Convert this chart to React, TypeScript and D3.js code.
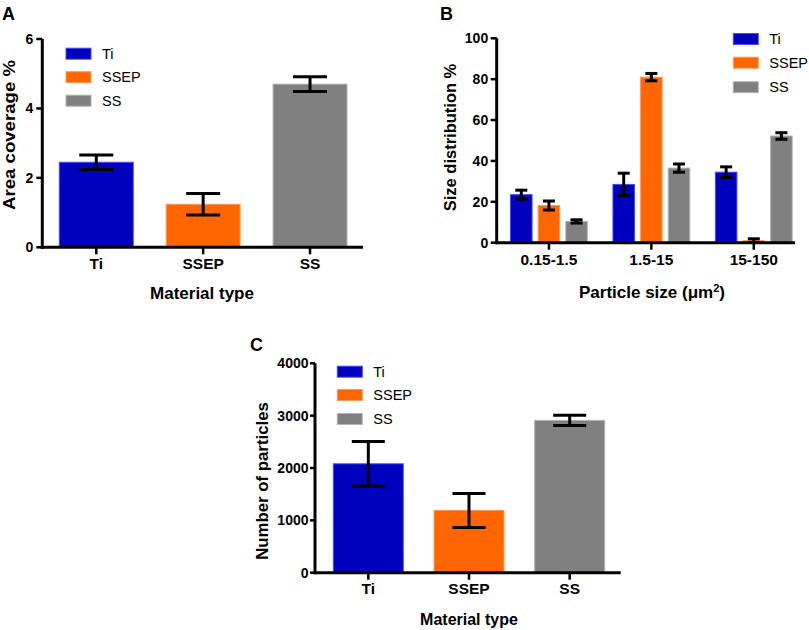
import React from "react";
import * as d3 from "d3";

// ---------- data ----------
const materials = ["Ti", "SSEP", "SS"];
const coverageMean = [2.45, 1.24, 4.7];
const coverageErr = [0.21, 0.31, 0.21];
const coverageTicks = [0, 2, 4, 6];

const sizeBins = ["0.15-1.5", "1.5-15", "15-150"];
const sizeTi = [23.5, 28.5, 34.5];
const sizeTiErr = [2.2, 5.5, 2.6];
const sizeSSEP = [18.2, 81, 1];
const sizeSSEPErr = [2.2, 1.8, 0.9];
const sizeSS = [10.4, 36.5, 52.2];
const sizeSSErr = [0.8, 2, 1.6];
const sizeTicks = [0, 20, 40, 60, 80, 100];

const countMean = [2080, 1190, 2910];
const countErr = [425, 325, 100];
const countTicks = [0, 1000, 2000, 3000, 4000];

const FILL = ["#0000bf", "#ff6600", "#808080"];
const EDGE = ["#4a4aff", "#ff9a5c", "#b4b4b4"];
const FONT = "'Liberation Sans', Arial, Helvetica, sans-serif";

type ErrProps = { cx: number; top: number; bottom: number; cap: number; sw: number };
function ErrBar({ cx, top, bottom, cap, sw }: ErrProps) {
  return (
    <g stroke="#000" strokeWidth={sw} fill="none">
      <line x1={cx} x2={cx} y1={top} y2={bottom} />
      <line x1={cx - cap / 2} x2={cx + cap / 2} y1={top} y2={top} />
      <line x1={cx - cap / 2} x2={cx + cap / 2} y1={bottom} y2={bottom} />
    </g>
  );
}

type AxisProps = {
  y: d3.ScaleLinear<number, number>;
  ax: number;
  xEnd: number;
  ticks: number[];
  tickSize: number;
  pad: number;
  xCenters: number[];
};
function Axes({ y, ax, xEnd, ticks, tickSize, pad, xCenters }: AxisProps) {
  const [yb, yt] = y.range();
  return (
    <g>
      <line x1={ax} x2={ax} y1={yt} y2={yb + 1.5} stroke="#000" strokeWidth={3} />
      <line x1={ax - 1.5} x2={xEnd} y1={yb} y2={yb} stroke="#000" strokeWidth={3} />
      {ticks.map((t) => (
        <g key={t}>
          <line x1={ax - tickSize} x2={ax} y1={y(t)} y2={y(t)} stroke="#000" strokeWidth={2.5} />
          <text
            x={ax - tickSize - pad}
            y={y(t)}
            dy="0.36em"
            textAnchor="end"
            fontFamily={FONT}
            fontWeight="bold"
            fontSize={14}
          >
            {t}
          </text>
        </g>
      ))}
      {xCenters.map((c, i) => (
        <line key={i} x1={c} x2={c} y1={yb} y2={yb + 7} stroke="#000" strokeWidth={2.5} />
      ))}
    </g>
  );
}

type LegendProps = { x: number; ys: number[] };
function Legend({ x, ys }: LegendProps) {
  return (
    <g>
      {materials.map((m, i) => (
        <g key={m}>
          <rect x={x} y={ys[i] - 5.5} width={25} height={11} fill={FILL[i]} stroke={EDGE[i]} strokeWidth={1} />
          <text x={x + 36} y={ys[i]} dy="0.36em" fontFamily={FONT} fontSize={14.5}>
            {m}
          </text>
        </g>
      ))}
    </g>
  );
}

function PanelA() {
  const ax = 42.3;
  const x = d3.scaleBand<string>().domain(materials).range([ax, 364]).paddingInner(0.308).paddingOuter(0.159);
  const y = d3.scaleLinear().domain([0, 6]).range([247.3, 39]);
  const centers = materials.map((m) => (x(m) as number) + x.bandwidth() / 2);
  return (
    <g>
      <text x={2} y={19.5} fontFamily={FONT} fontWeight="bold" fontSize={18}>A</text>
      {materials.map((m, i) => (
        <rect
          key={m}
          x={x(m)}
          y={y(coverageMean[i])}
          width={x.bandwidth()}
          height={y(0) - y(coverageMean[i])}
          fill={FILL[i]}
          stroke={EDGE[i]}
          strokeWidth={1}
        />
      ))}
      {materials.map((m, i) => (
        <ErrBar
          key={m}
          cx={centers[i]}
          top={y(coverageMean[i] + coverageErr[i])}
          bottom={y(coverageMean[i] - coverageErr[i])}
          cap={34}
          sw={3}
        />
      ))}
      <Axes y={y} ax={ax} xEnd={363} ticks={coverageTicks} tickSize={6} pad={3} xCenters={centers} />
      {materials.map((m, i) => (
        <text key={m} x={centers[i]} y={269} textAnchor="middle" fontFamily={FONT} fontWeight="bold" fontSize={15.5}>
          {m}
        </text>
      ))}
      <text x={202} y={299} textAnchor="middle" fontFamily={FONT} fontWeight="bold" fontSize={17}>
        Material type
      </text>
      <text
        transform="translate(15,135) rotate(-90)"
        textAnchor="middle"
        fontFamily={FONT}
        fontWeight="bold"
        fontSize={17}
        textLength={150}
        lengthAdjust="spacingAndGlyphs"
      >
        Area coverage %
      </text>
      <Legend x={66} ys={[53.7, 77.2, 100.7]} />
    </g>
  );
}

function PanelB() {
  const ax = 496.7;
  const x0 = d3.scaleBand<string>().domain(sizeBins).range([ax, 806]).paddingInner(0.25).paddingOuter(0.135);
  const x1 = d3.scaleBand<string>().domain(materials).range([0, x0.bandwidth()]).paddingInner(0.22).paddingOuter(0);
  const y = d3.scaleLinear().domain([0, 100]).range([242.7, 38.3]);
  const means = [sizeTi, sizeSSEP, sizeSS];
  const errs = [sizeTiErr, sizeSSEPErr, sizeSSErr];
  const centers = sizeBins.map((b) => (x0(b) as number) + x0.bandwidth() / 2);
  return (
    <g>
      <text x={440} y={19.5} fontFamily={FONT} fontWeight="bold" fontSize={18}>B</text>
      {sizeBins.map((b, j) =>
        materials.map((m, i) => {
          const bx = (x0(b) as number) + (x1(m) as number);
          return (
            <g key={b + m}>
              <rect
                x={bx}
                y={y(means[i][j])}
                width={x1.bandwidth()}
                height={y(0) - y(means[i][j])}
                fill={FILL[i]}
                stroke={EDGE[i]}
                strokeWidth={1}
              />
            </g>
          );
        })
      )}
      {sizeBins.map((b, j) =>
        materials.map((m, i) => {
          const bx = (x0(b) as number) + (x1(m) as number);
          return (
            <ErrBar
              key={b + m}
              cx={bx + x1.bandwidth() / 2}
              top={y(means[i][j] + errs[i][j])}
              bottom={y(Math.max(0, means[i][j] - errs[i][j]))}
              cap={12}
              sw={3}
            />
          );
        })
      )}
      <Axes y={y} ax={ax} xEnd={795} ticks={sizeTicks} tickSize={6} pad={2.5} xCenters={centers} />
      {sizeBins.map((b, j) => (
        <text key={b} x={centers[j]} y={265} textAnchor="middle" fontFamily={FONT} fontWeight="bold" fontSize={15.5}>
          {b}
        </text>
      ))}
      <text x={652} y={298} textAnchor="middle" fontFamily={FONT} fontWeight="bold" fontSize={17}>
        Particle size (μm
        <tspan baselineShift="super" fontSize={11}>2</tspan>)
      </text>
      <text
        transform="translate(456,137.5) rotate(-90)"
        textAnchor="middle"
        fontFamily={FONT}
        fontWeight="bold"
        fontSize={16.5}
      >
        Size distribution %
      </text>
      <Legend x={733.3} ys={[39, 62.7, 87.2]} />
    </g>
  );
}

function PanelC() {
  const ax = 315;
  const x = d3.scaleBand<string>().domain(materials).range([ax, 623]).paddingInner(0.305).paddingOuter(0.182);
  const y = d3.scaleLinear().domain([0, 4000]).range([572.7, 363.3]);
  const centers = materials.map((m) => (x(m) as number) + x.bandwidth() / 2);
  return (
    <g>
      <text x={250} y={351} fontFamily={FONT} fontWeight="bold" fontSize={18}>C</text>
      {materials.map((m, i) => (
        <rect
          key={m}
          x={x(m)}
          y={y(countMean[i])}
          width={x.bandwidth()}
          height={y(0) - y(countMean[i])}
          fill={FILL[i]}
          stroke={EDGE[i]}
          strokeWidth={1}
        />
      ))}
      {materials.map((m, i) => (
        <ErrBar
          key={m}
          cx={centers[i]}
          top={y(countMean[i] + countErr[i])}
          bottom={y(countMean[i] - countErr[i])}
          cap={33}
          sw={3}
        />
      ))}
      <Axes y={y} ax={ax} xEnd={620.7} ticks={countTicks} tickSize={5} pad={1.5} xCenters={centers} />
      {materials.map((m, i) => (
        <text key={m} x={centers[i]} y={594} textAnchor="middle" fontFamily={FONT} fontWeight="bold" fontSize={15.5}>
          {m}
        </text>
      ))}
      <text x={469} y={625} textAnchor="middle" fontFamily={FONT} fontWeight="bold" fontSize={16}>
        Material type
      </text>
      <text
        transform="translate(268,481) rotate(-90)"
        textAnchor="middle"
        fontFamily={FONT}
        fontWeight="bold"
        fontSize={16.8}
      >
        Number of particles
      </text>
      <Legend x={337.3} ys={[371.7, 395, 419]} />
    </g>
  );
}

export default function App() {
  return (
    <svg
      width={809}
      height={630}
      viewBox="0 0 809 630"
      style={{ position: "absolute", left: 0, top: 0, background: "#fff" }}
    >
      <rect width={809} height={630} fill="#fff" />
      <PanelA />
      <PanelB />
      <PanelC />
    </svg>
  );
}
